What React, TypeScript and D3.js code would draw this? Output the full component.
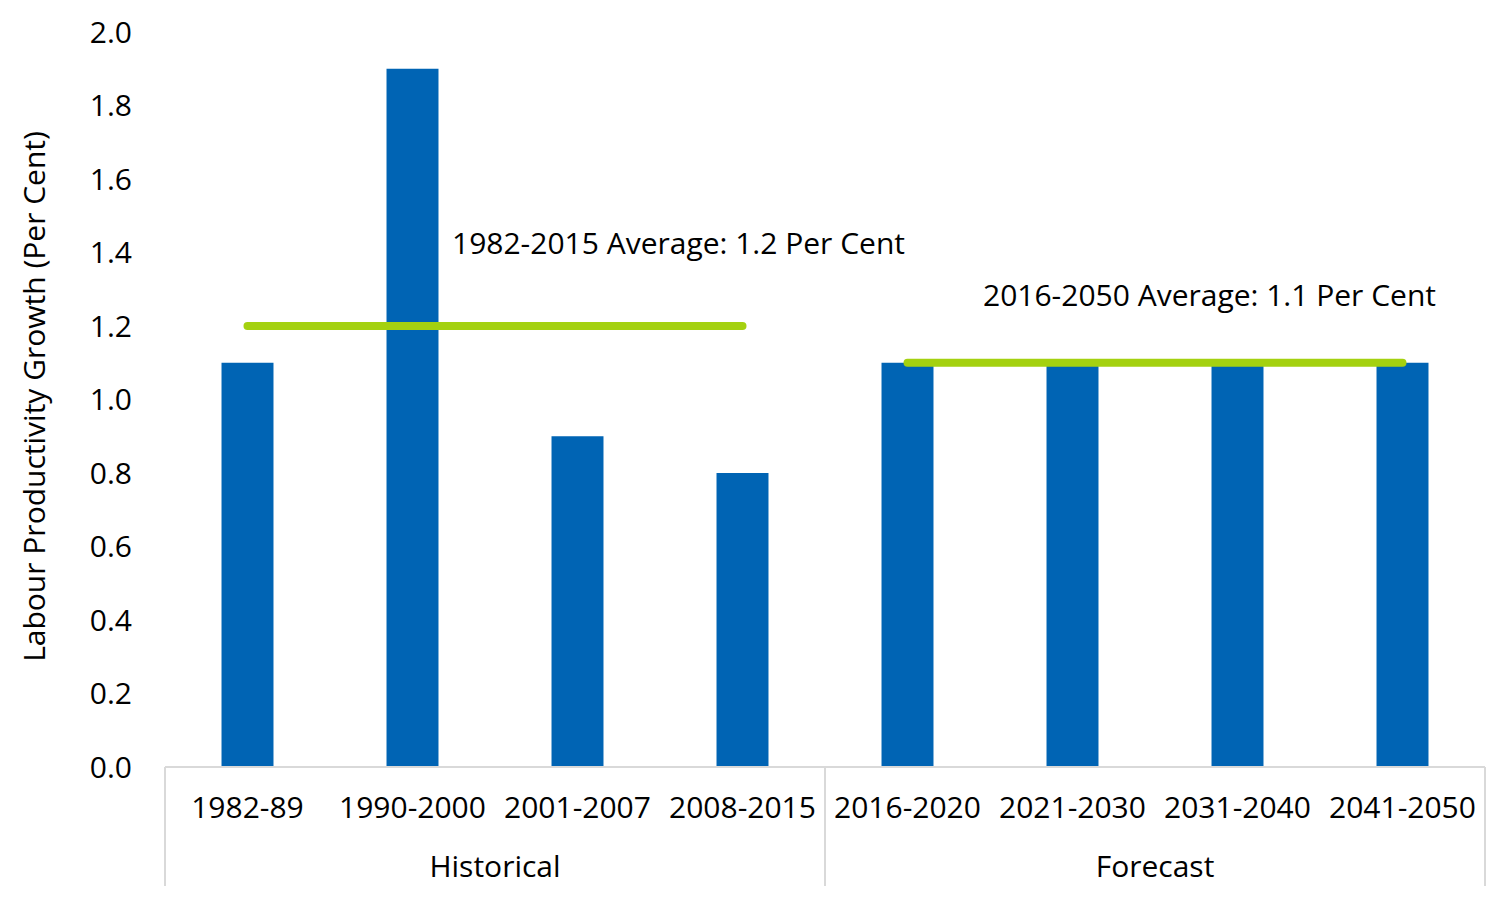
import { useEffect, useRef } from 'react';
import * as d3 from 'd3';

const categories = ['1982-89', '1990-2000', '2001-2007', '2008-2015', '2016-2020', '2021-2030', '2031-2040', '2041-2050'];
const growth = [1.1, 1.9, 0.9, 0.8, 1.1, 1.1, 1.1, 1.1];
const groups = ['Historical', 'Forecast'];
const groupOf = [0, 0, 0, 0, 1, 1, 1, 1];
const averages = [1.2, 1.1];
const averageLabels = ['1982-2015 Average: 1.2 Per Cent', '2016-2050 Average: 1.1 Per Cent'];
const yTicks = [0, 0.2, 0.4, 0.6, 0.8, 1.0, 1.2, 1.4, 1.6, 1.8, 2.0];

const W = 1500;
const H = 897;
const FONT = '"Open Sans", "Noto Sans", sans-serif';
const FS = '30px';

export default function App() {
  const svgRef = useRef<SVGSVGElement>(null);

  useEffect(() => {
    const svg = d3.select(svgRef.current);
    svg.selectAll('*').remove();

    const left = 165, right = 1485, top = 32, bottom = 767;

    const x = d3.scaleBand<string>()
      .domain(categories)
      .range([left, right])
      .paddingInner(0.685)
      .paddingOuter(0.3425);

    const y = d3.scaleLinear().domain([0, 2]).range([bottom, top]);

    // bars
    svg.append('g')
      .selectAll('rect')
      .data(categories)
      .enter().append('rect')
      .attr('x', d => x(d)!)
      .attr('y', (d, i) => y(growth[i]))
      .attr('width', x.bandwidth())
      .attr('height', (d, i) => y(0) - y(growth[i]))
      .attr('fill', '#0064B4');

    // y tick labels
    svg.append('g')
      .selectAll('text')
      .data(yTicks)
      .enter().append('text')
      .attr('x', 132)
      .attr('y', d => y(d))
      .attr('dy', '0.36em')
      .attr('text-anchor', 'end')
      .style('font-family', FONT)
      .style('font-size', FS)
      .style('fill', '#000')
      .text(d => d.toFixed(1));

    // y title
    svg.append('text')
      .attr('transform', `translate(45, ${(top + bottom) / 2 - 3}) rotate(-90)`)
      .attr('text-anchor', 'middle')
      .style('font-family', FONT)
      .style('font-size', FS)
      .style('fill', '#000')
      .text('Labour Productivity Growth (Per Cent)');

    // axis line and group separators
    const axis = svg.append('g').attr('stroke', '#D9D9D9').attr('stroke-width', 2);
    axis.append('line')
      .attr('x1', left).attr('x2', right)
      .attr('y1', bottom).attr('y2', bottom);

    const gap = (x.step() - x.bandwidth()) / 2;
    const groupBounds = groups.map((g, gi) => {
      const idx = categories.filter((c, i) => groupOf[i] === gi);
      return {
        first: idx[0],
        last: idx[idx.length - 1],
        x0: x(idx[0])! - gap,
        x1: x(idx[idx.length - 1])! + x.bandwidth() + gap,
      };
    });

    const seps = Array.from(new Set(groupBounds.flatMap(b => [Math.round(b.x0), Math.round(b.x1)])));
    axis.selectAll('line.sep')
      .data(seps)
      .enter().append('line')
      .attr('class', 'sep')
      .attr('x1', d => d).attr('x2', d => d)
      .attr('y1', bottom).attr('y2', 886);

    // category labels
    svg.append('g')
      .selectAll('text')
      .data(categories)
      .enter().append('text')
      .attr('x', d => x(d)! + x.bandwidth() / 2)
      .attr('y', 818)
      .attr('text-anchor', 'middle')
      .style('font-family', FONT)
      .style('font-size', FS)
      .style('fill', '#000')
      .text(d => d);

    // group labels
    svg.append('g')
      .selectAll('text')
      .data(groupBounds)
      .enter().append('text')
      .attr('x', d => (d.x0 + d.x1) / 2)
      .attr('y', 877)
      .attr('text-anchor', 'middle')
      .style('font-family', FONT)
      .style('font-size', FS)
      .style('fill', '#000')
      .text((d, i) => groups[i]);

    // average lines
    svg.append('g')
      .selectAll('line')
      .data(groupBounds)
      .enter().append('line')
      .attr('x1', d => x(d.first)! + x.bandwidth() / 2)
      .attr('x2', d => x(d.last)! + x.bandwidth() / 2)
      .attr('y1', (d, i) => y(averages[i]))
      .attr('y2', (d, i) => y(averages[i]))
      .attr('stroke', '#A4D110')
      .attr('stroke-width', 8)
      .attr('stroke-linecap', 'round');

    // average annotations
    const labelPos = [
      { x: 452, y: 254 },
      { x: 983, y: 306 },
    ];
    svg.append('g')
      .selectAll('text')
      .data(averageLabels)
      .enter().append('text')
      .attr('x', (d, i) => labelPos[i].x)
      .attr('y', (d, i) => labelPos[i].y)
      .style('font-family', FONT)
      .style('font-size', FS)
      .style('fill', '#000')
      .text(d => d);
  }, []);

  return (
    <div style={{ position: 'absolute', left: 0, top: 0 }}>
      <svg ref={svgRef} width={W} height={H} style={{ display: 'block', background: '#fff' }} />
    </div>
  );
}
